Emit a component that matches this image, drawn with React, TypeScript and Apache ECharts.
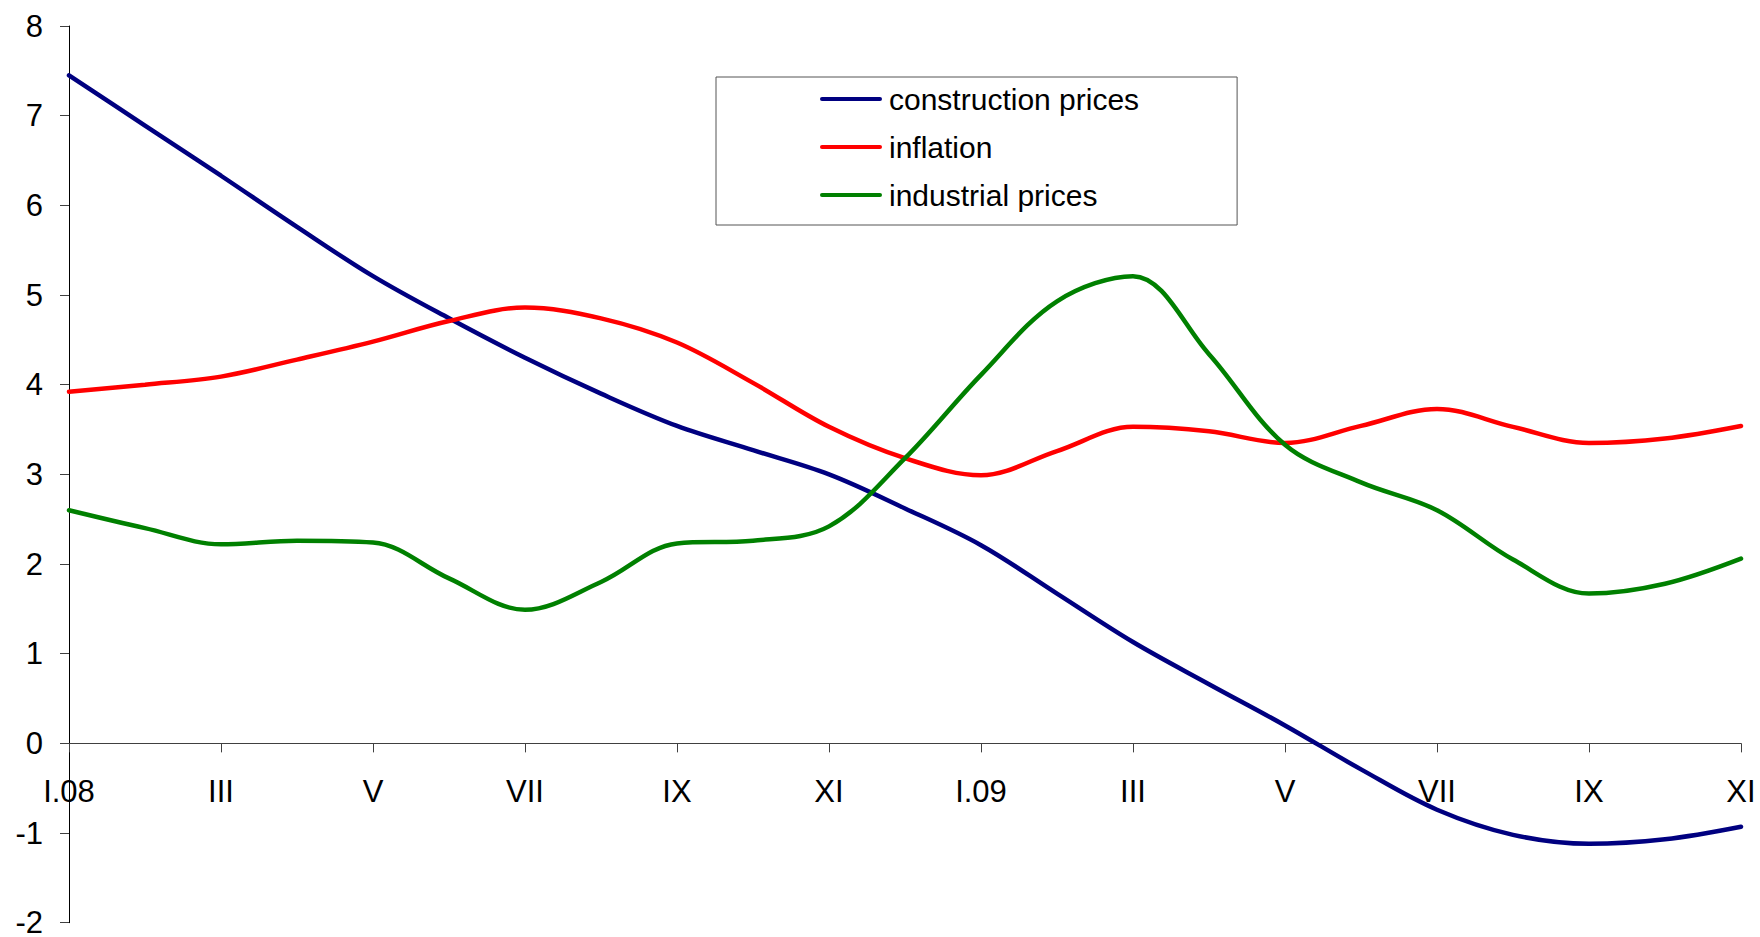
import React, { useEffect, useRef } from 'react';
import * as echarts from 'echarts';

const months = ['I.08', 'II', 'III', 'IV', 'V', 'VI', 'VII', 'VIII', 'IX', 'X', 'XI', 'XII', 'I.09', 'II', 'III', 'IV', 'V', 'VI', 'VII', 'VIII', 'IX', 'X', 'XI'];

const constructionPrices = [7.45, 6.89, 6.33, 5.76, 5.21, 4.74, 4.30, 3.90, 3.54, 3.27, 3.00, 2.62, 2.21, 1.67, 1.13, 0.66, 0.20, -0.29, -0.74, -1.02, -1.12, -1.07, -0.93];
const inflation = [3.92, 4.00, 4.09, 4.28, 4.48, 4.71, 4.86, 4.74, 4.47, 4.02, 3.53, 3.18, 2.99, 3.26, 3.53, 3.48, 3.35, 3.54, 3.73, 3.53, 3.35, 3.40, 3.54];
const industrialPrices = [2.60, 2.40, 2.22, 2.26, 2.24, 1.84, 1.49, 1.80, 2.23, 2.26, 2.42, 3.18, 4.11, 4.93, 5.21, 4.34, 3.33, 2.91, 2.60, 2.05, 1.67, 1.78, 2.06];

const seriesNames = ['construction prices', 'inflation', 'industrial prices'];
const seriesColors = ['#000080', '#FF0000', '#008000'];

const Y_MIN = -2;
const Y_MAX = 8;

const FONT = '"Liberation Sans", Arial, sans-serif';
const LEGEND_ICON = 'path://M2,0 L60,0 A2,2 0 0 1 60,4 L2,4 A2,2 0 0 1 2,0 Z';

const CHART_H = 937;
const GRID_TOP = 26;
const GRID_BOTTOM = 14.3;

export default function App() {
  const ref = useRef<HTMLDivElement>(null);

  useEffect(() => {
    if (!ref.current) return;
    const chart = echarts.init(ref.current, null, { renderer: 'svg' });
    const data = [constructionPrices, inflation, industrialPrices];
    const plotH = CHART_H - GRID_TOP - GRID_BOTTOM;
    // lift the category axis from the grid bottom up to the value 0 line
    const xOffset = -plotH * (0 - Y_MIN) / (Y_MAX - Y_MIN);
    chart.setOption({
      animation: false,
      backgroundColor: '#ffffff',
      textStyle: { fontFamily: FONT },
      grid: { left: 69, right: 19, top: GRID_TOP, bottom: GRID_BOTTOM, containLabel: false, outerBoundsMode: 'none' },
      legend: {
        left: 716,
        top: 77,
        orient: 'vertical',
        data: seriesNames,
        icon: LEGEND_ICON,
        itemWidth: 62,
        itemHeight: 4.5,
        itemGap: 16,
        padding: [6, 98, 14, 104],
        borderColor: '#555555',
        borderWidth: 1,
        backgroundColor: '#ffffff',
        textStyle: { fontSize: 30, color: '#000000', fontFamily: FONT, lineHeight: 32, padding: [0, 0, 0, 2] },
      },
      xAxis: {
        type: 'category',
        data: months,
        boundaryGap: false,
        offset: xOffset,
        axisLine: { onZero: false, lineStyle: { color: '#404040', width: 1 } },
        axisTick: { show: true, interval: 1, length: 9, lineStyle: { color: '#404040' } },
        axisLabel: { interval: 1, fontSize: 31, color: '#000000', margin: 33, fontFamily: FONT },
        splitLine: { show: false },
      },
      yAxis: {
        type: 'value',
        min: Y_MIN,
        max: Y_MAX,
        interval: 1,
        axisLine: { show: true, onZero: false, lineStyle: { color: '#000000', width: 1 } },
        axisTick: { show: true, length: 9, lineStyle: { color: '#404040' } },
        axisLabel: { fontSize: 31, color: '#000000', margin: 26, lineHeight: 26, fontFamily: FONT },
        splitLine: { show: false },
      },
      series: seriesNames.map((name, i) => ({
        name,
        type: 'line',
        data: data[i],
        symbol: 'none',
        smooth: 0.35,
        lineStyle: { width: 4.5, color: seriesColors[i], cap: 'round' },
        itemStyle: { color: seriesColors[i] },
      })),
    });
    return () => chart.dispose();
  }, []);

  return (
    <div
      ref={ref}
      style={{ position: 'fixed', left: 0, top: 0, width: 1760, height: 937, background: '#ffffff' }}
    />
  );
}
